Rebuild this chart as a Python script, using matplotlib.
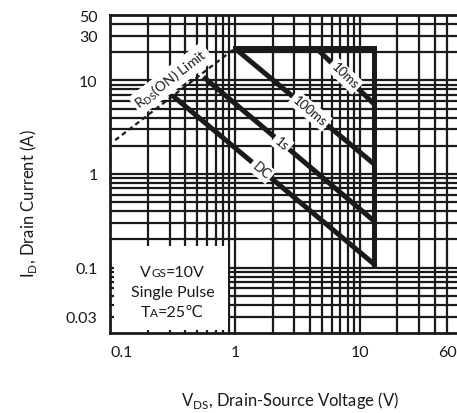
import numpy as np
import matplotlib.pyplot as plt
from matplotlib.patches import Rectangle
from matplotlib.offsetbox import TextArea, HPacker, VPacker, AnchoredOffsetbox

plt.rcParams['font.family'] = ['Lato', 'DejaVu Sans']
plt.rcParams['mathtext.fontset'] = 'custom'
plt.rcParams['mathtext.rm'] = 'Lato'

INK = '#1a1a1a'

# safe operating area limits
ID_MAX = 22.0
VDS_MAX = 13.0
rds_v = [0.11, 1.0]
rds_i = [2.3, 22.0]

pulse_names = ['10ms', '100ms', '1s', 'DC']
pulse_v = [[4.5, 13.0], [1.0, 13.0], [0.56, 13.0], [0.32, 13.0]]
pulse_i = [[22.0, 5.6], [22.0, 1.28], [10.9, 0.315], [6.8, 0.109]]
label_at = [0.49, 0.54, 0.46, 0.44]  # position of each label along its line

x_ticks = [0.1, 1, 10, 60]
y_ticks = [0.03, 0.1, 1, 10, 30, 50]

# log grid lines
x_grid = [m * d for d in (0.1, 1) for m in range(2, 10)] + [1, 10, 20, 30, 40, 50]
y_grid = ([m * 0.01 for m in range(3, 10)] + [m * d for d in (0.1, 1) for m in range(1, 10)]
          + [10, 20, 30, 40])

fig = plt.figure(figsize=(4.57, 4.14), dpi=100)
ax = fig.add_axes([110 / 457, 80 / 414, 347 / 457, 318 / 414])
ax.set_xscale('log')
ax.set_yscale('log')
ax.set_xlim(0.1, 60)
ax.set_ylim(0.02, 50)

for v in x_grid:
    ax.axvline(v, color=INK, lw=1.6, zorder=1)
for v in y_grid:
    ax.axhline(v, color=INK, lw=1.6, zorder=1)

# blank area for the test conditions
ax.add_patch(Rectangle((0.0115, 0.0094), 0.329, 0.265, transform=ax.transAxes,
                       fc='white', ec='none', zorder=2))

# boundary: current limit then voltage limit
ax.plot([rds_v[1], VDS_MAX, VDS_MAX], [ID_MAX, ID_MAX, pulse_i[-1][1]],
        color=INK, lw=3.6, zorder=3, solid_joinstyle='miter')
ax.plot(rds_v, rds_i, color=INK, lw=1.6, ls=(0, (2.2, 1.6)), zorder=3)

for name, vv, ii, t in zip(pulse_names, pulse_v, pulse_i, label_at):
    ax.plot(vv, ii, color=INK, lw=3.6, zorder=3, solid_capstyle='butt')
    p0 = ax.transData.transform((vv[0], ii[0]))
    p1 = ax.transData.transform((vv[1], ii[1]))
    ang = np.degrees(np.arctan2(p1[1] - p0[1], p1[0] - p0[0]))
    lv = vv[0] * (vv[1] / vv[0]) ** t
    li = ii[0] * (ii[1] / ii[0]) ** t
    ax.text(lv, li, name, rotation=ang, rotation_mode='anchor', ha='center', va='center',
            fontsize=9.5, color=INK, zorder=4,
            bbox=dict(boxstyle='square,pad=0.2', fc='white', ec='none'))

p0 = ax.transData.transform((rds_v[0], rds_i[0]))
p1 = ax.transData.transform((rds_v[1], rds_i[1]))
ang = np.degrees(np.arctan2(p1[1] - p0[1], p1[0] - p0[0]))
ax.text(0.31, 10.4, r'R$_\mathrm{DS}$(ON) Limit', rotation=ang, rotation_mode='anchor',
        ha='center', va='center', fontsize=10, color=INK, zorder=4,
        bbox=dict(boxstyle='square,pad=0.2', fc='white', ec='none'))


def cond_line(main, sub, rest):
    parts = [TextArea(main, textprops=dict(size=11.5, color=INK)),
             TextArea(sub, textprops=dict(size=8.5, color=INK)),
             TextArea(rest, textprops=dict(size=11.5, color=INK))]
    return HPacker(children=parts, align='baseline', pad=0, sep=0)


cond = VPacker(children=[cond_line('V', 'GS', '=10V'),
                         TextArea('Single Pulse', textprops=dict(size=11.5, color=INK)),
                         cond_line('T', 'A', '=25\u2103')],
               align='center', pad=0, sep=4)
ax.add_artist(AnchoredOffsetbox(loc='center', child=cond, bbox_to_anchor=(0.18, 0.129),
                                bbox_transform=ax.transAxes, frameon=False, pad=0,
                                borderpad=0))

ax.set_xticks(x_ticks)
ax.set_xticklabels(['0.1', '1', '10', '60'])
ax.set_yticks(y_ticks)
ax.set_yticklabels(['0.03', '0.1', '1', '10', '30', '50'])
ax.minorticks_off()
ax.tick_params(length=0, labelsize=11.5, colors=INK, pad=9)
ax.get_xticklabels()[0].set_horizontalalignment('left')
ax.get_xticklabels()[-1].set_horizontalalignment('right')

for side in ('left', 'bottom', 'top'):
    ax.spines[side].set_linewidth(2.0)
    ax.spines[side].set_color(INK)
ax.spines['right'].set_visible(False)

ax.set_xlabel(r'V$_\mathrm{DS}$, Drain-Source Voltage (V)', fontsize=12, color=INK)
ax.xaxis.set_label_coords(0.52, -0.175)
ax.set_ylabel(r'I$_\mathrm{D}$, Drain Current (A)', fontsize=12, color=INK)
ax.yaxis.set_label_coords(-0.205, 0.41)

fig.savefig('out.png', dpi=100)
